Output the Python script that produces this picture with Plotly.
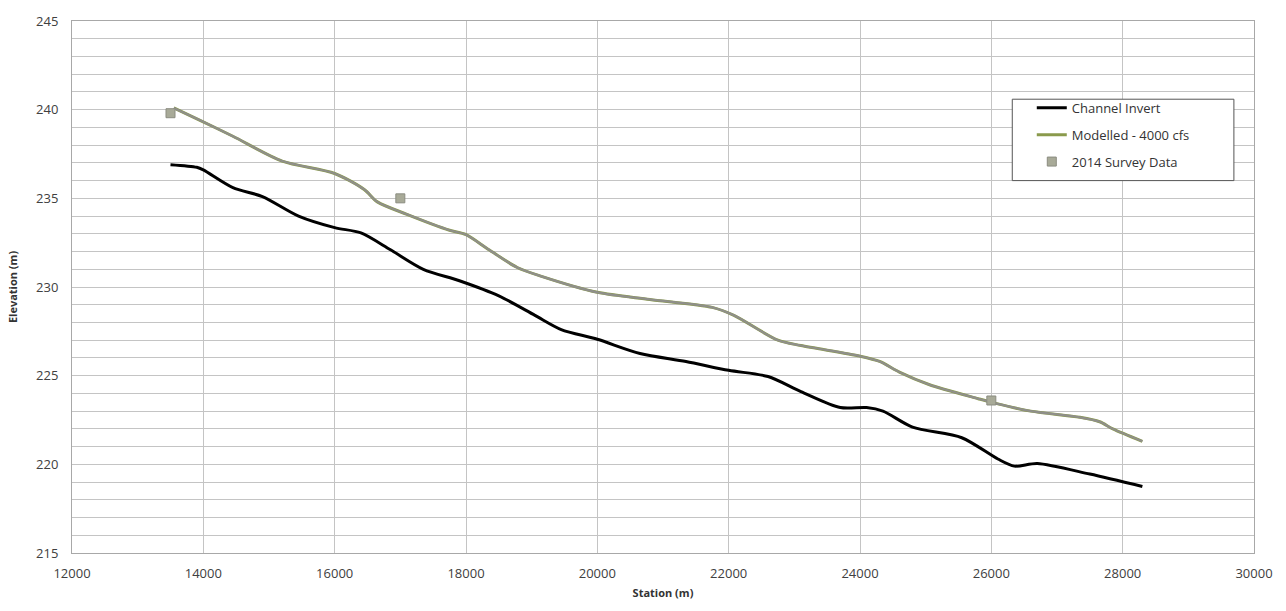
import plotly.graph_objects as go

# Channel invert profile
invert_station = [13500, 13900, 14000, 14450, 14900, 15450, 16000, 16400, 16850, 17350,
                  17900, 18500, 19050, 19450, 20000, 20650, 21350, 22000, 22600, 23100,
                  23700, 24100, 24350, 24800, 25550, 26100, 26350, 26700, 27500, 28300]
invert_elev = [236.9, 236.75, 236.6, 235.6, 235.1, 234.0, 233.35, 233.05, 232.1, 231.0,
               230.35, 229.5, 228.4, 227.6, 227.05, 226.25, 225.8, 225.3, 224.95, 224.1,
               223.2, 223.2, 223.0, 222.1, 221.5, 220.3, 219.9, 220.05, 219.45, 218.75]

# Modelled water surface - 4000 cfs
model_station = [13550, 13950, 14450, 15200, 16000, 16450, 16650, 17100, 17750, 18000,
                 18350, 18780, 19150, 20000, 20800, 21750, 22080, 22750, 23100, 24000,
                 24300, 24600, 25050, 25800, 26050, 26600, 27350, 27650, 27850, 28300]
model_elev = [240.1, 239.4, 238.5, 237.1, 236.4, 235.5, 234.8, 234.1, 233.2, 232.95,
              232.1, 231.1, 230.6, 229.7, 229.3, 228.85, 228.4, 227.0, 226.7, 226.1,
              225.8, 225.2, 224.5, 223.7, 223.45, 223.0, 222.65, 222.4, 222.0, 221.3]

# 2014 survey data
survey_station = [13500, 17000, 26000]
survey_elev = [239.8, 235.0, 223.6]

x_ticks = [12000, 14000, 16000, 18000, 20000, 22000, 24000, 26000, 28000, 30000]
y_ticks = [215, 220, 225, 230, 235, 240, 245]

FONT = "Open Sans"
GRID = "#c4c4c4"

fig = go.Figure()
fig.add_trace(go.Scatter(
    x=invert_station, y=invert_elev, mode="lines", name="Channel Invert", legendgroup="a",
    line=dict(color="#000000", width=3, shape="spline", smoothing=0.8)))
fig.add_trace(go.Scatter(
    x=model_station, y=model_elev, mode="lines", name="Modelled - 4000 cfs", legendgroup="b",
    line=dict(color="#8a9a4c", width=3, shape="spline", smoothing=0.8)))
fig.add_trace(go.Scatter(
    x=model_station, y=model_elev, mode="lines", showlegend=False, hoverinfo="skip",
    legendgroup="b",
    line=dict(color="#8f8f8a", width=2.2, shape="spline", smoothing=0.8)))
fig.add_trace(go.Scatter(
    x=survey_station, y=survey_elev, mode="markers", name="2014 Survey Data", legendgroup="c",
    marker=dict(symbol="square", size=9, color="#a8aa98",
                line=dict(color="#8b8c80", width=1))))

# legend frame
fig.add_shape(type="rect", xref="paper", yref="paper",
              x0=0.7955, x1=0.983, y0=0.700, y1=0.853,
              line=dict(color="#555555", width=1), fillcolor="white", layer="above")

fig.update_layout(
    width=1286, height=611,
    margin=dict(l=71, r=32, t=16, b=58),
    paper_bgcolor="white", plot_bgcolor="white",
    font=dict(family=FONT, color="#404040", size=13),
    showlegend=True,
    legend=dict(
        x=0.812, y=0.865, xanchor="left", yanchor="top",
        bgcolor="rgba(0,0,0,0)", borderwidth=0,
        font=dict(family=FONT, size=13, color="#333333"),
        tracegroupgap=7, itemwidth=30,
    ),
    xaxis=dict(
        range=[12000, 30000], tickvals=x_ticks, ticktext=[str(v) for v in x_ticks],
        showgrid=True, gridcolor=GRID, gridwidth=1,
        showline=True, linecolor="#a8a8a8", linewidth=1, mirror=True,
        zeroline=False, ticks="", ticklabelstandoff=8,
        title=dict(text="<b>Station (m)</b>", font=dict(size=11, color="#333333"), standoff=8),
        tickfont=dict(size=13, color="#404040"),
    ),
    yaxis=dict(
        range=[215, 245], tickvals=y_ticks, ticktext=[str(v) for v in y_ticks],
        showgrid=True, gridcolor=GRID, gridwidth=1,
        minor=dict(dtick=1, showgrid=True, gridcolor=GRID, gridwidth=1),
        showline=True, linecolor="#a8a8a8", linewidth=1, mirror=True,
        zeroline=False, ticks="", ticklabelstandoff=10,
        title=dict(text="<b>Elevation (m)</b>", font=dict(size=11, color="#333333"), standoff=16),
        tickfont=dict(size=13, color="#404040"),
    ),
)

fig.write_html("out.html")
